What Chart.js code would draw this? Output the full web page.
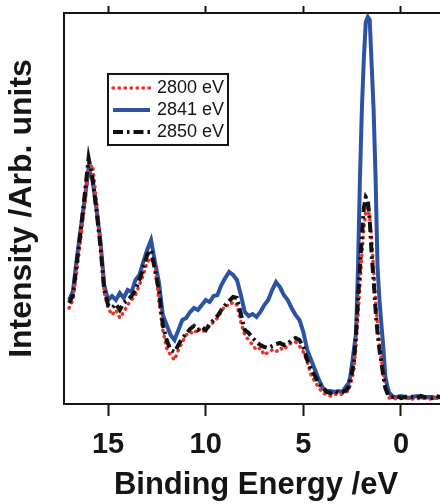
<!DOCTYPE html>
<html>
<head>
<meta charset="utf-8">
<script src="https://cdn.jsdelivr.net/npm/chart.js@4"></script>
<style>
    html, body { margin: 0; padding: 0; background: #fff; overflow: hidden; }
</style>
</head>
<body>
<canvas id="myChart" width="456" height="504"></canvas>
<script>
// binding energy (eV), finer steps around the 1.7 eV peak
const energies = [
    17.0, 16.8, 16.6, 16.4, 16.2, 16.0, 15.8, 15.6, 15.4, 15.2,
    15.0, 14.8, 14.6, 14.4, 14.2, 14.0, 13.8, 13.6, 13.4, 13.2,
    13.0, 12.8, 12.6, 12.4, 12.2, 12.0, 11.8, 11.6, 11.4, 11.2,
    11.0, 10.8, 10.6, 10.4, 10.2, 10.0, 9.8, 9.6, 9.4, 9.2,
    9.0, 8.8, 8.6, 8.4, 8.2, 8.0, 7.8, 7.6, 7.4, 7.2,
    7.0, 6.8, 6.6, 6.4, 6.2, 6.0, 5.8, 5.6, 5.4, 5.2,
    5.0, 4.8, 4.6, 4.4, 4.2, 4.0, 3.8, 3.6, 3.4, 3.2,
    3.0, 2.8, 2.7, 2.6, 2.5, 2.4, 2.3, 2.2, 2.1, 2.0,
    1.9, 1.8, 1.7, 1.6, 1.5, 1.4, 1.3, 1.2, 1.1, 1.0,
    0.9, 0.8, 0.7, 0.6, 0.4, 0.2, 0.0, -0.2, -0.4, -0.6,
    -0.8, -1.0, -1.2, -1.4, -1.6, -1.8, -2.0, -2.2, -2.4
];

const int2800 = [
    96, 104, 134, 166, 199, 234, 239, 204, 164, 112,
    96, 89, 94, 86, 92, 99, 104, 109, 119, 129,
    142, 146, 139, 104, 74, 56, 49, 44, 54, 62,
    69, 72, 70, 76, 72, 74, 78, 82, 86, 92,
    99, 98, 102, 99, 82, 69, 64, 59, 54, 56,
    49, 52, 54, 52, 56, 54, 59, 61, 62, 58,
    52, 42, 29, 22, 16, 11, 9, 8, 10, 9,
    10, 12, 13, 19, 26, 36, 59, 89, 119, 149,
    176, 192, 196, 186, 164, 134, 104, 79, 59, 44,
    29, 17, 10, 6, 6, 5, 6, 5, 6, 5,
    6, 5, 6, 5, 5, 6, 5, 6, 5
];

const int2841 = [
    104, 113, 146, 176, 204, 236, 224, 196, 164, 119,
    104, 108, 104, 111, 106, 114, 112, 124, 129, 142,
    154, 164, 142, 122, 89, 79, 69, 64, 74, 84,
    86, 92, 96, 94, 99, 104, 102, 108, 109, 119,
    126, 132, 129, 124, 109, 92, 88, 90, 87, 92,
    99, 104, 114, 122, 117, 109, 104, 96, 89, 84,
    72, 54, 44, 34, 24, 16, 13, 13, 12, 13,
    12, 18, 20, 27, 41, 56, 71, 137, 226, 296,
    346, 382, 387, 384, 339, 294, 226, 137, 104, 79,
    56, 27, 18, 11, 7, 7, 8, 7, 6, 7,
    8, 7, 6, 7, 7, 6, 7, 6, 7
];

const int2850 = [
    101, 109, 142, 174, 209, 246, 226, 194, 159, 114,
    99, 96, 100, 94, 101, 104, 108, 114, 124, 136,
    149, 154, 134, 114, 79, 64, 54, 52, 59, 66,
    70, 75, 78, 74, 77, 74, 80, 84, 88, 94,
    99, 103, 107, 106, 90, 74, 71, 66, 62, 59,
    57, 56, 58, 60, 61, 59, 60, 64, 66, 64,
    57, 44, 34, 28, 20, 16, 12, 11, 13, 11,
    12, 14, 16, 24, 32, 44, 71, 104, 137, 169,
    196, 207, 204, 184, 149, 124, 94, 71, 54, 42,
    27, 16, 11, 8, 7, 8, 6, 7, 8, 7,
    6, 8, 7, 7, 6, 8, 7, 6, 7
];

const tickValues = [15, 10, 5, 0];

const FONT = '"Liberation Sans", Arial, Helvetica, sans-serif';
const INK = '#151515';

function toPoints(values) {
    return energies.map((e, i) => ({ x: e, y: values[i] }));
}

// legend with a frame, drawn inside the plot area
const boxLegend = {
    id: 'boxLegend',
    afterDraw(chart) {
        const ctx = chart.ctx;
        const left = chart.chartArea.left + 44;
        const top = chart.chartArea.top + 61;
        ctx.save();
        ctx.strokeStyle = INK;
        ctx.lineWidth = 2;
        ctx.strokeRect(left, top, 120, 71);
        chart.data.datasets.forEach((ds, i) => {
            const y = top + 14 + i * 22;
            ctx.beginPath();
            ctx.setLineDash(ds.borderDash || []);
            ctx.lineCap = ds.borderCapStyle || 'butt';
            ctx.strokeStyle = ds.borderColor;
            ctx.lineWidth = ds.borderWidth;
            ctx.moveTo(left + 5, y);
            ctx.lineTo(left + 42, y);
            ctx.stroke();
            ctx.setLineDash([]);
            ctx.fillStyle = INK;
            ctx.font = '18px ' + FONT;
            ctx.textBaseline = 'middle';
            ctx.fillText(ds.label, left + 49, y);
        });
        ctx.restore();
    }
};

const xRange = { min: -2.41, max: 17.26 };

new Chart(document.getElementById('myChart'), {
    type: 'line',
    data: {
        datasets: [
            {
                label: '2800 eV',
                data: toPoints(int2800),
                borderColor: '#e8322a',
                borderWidth: 3.5,
                borderDash: [0.5, 5.5],
                borderCapStyle: 'round',
                order: 2
            },
            {
                label: '2841 eV',
                data: toPoints(int2841),
                borderColor: '#2c52a4',
                borderWidth: 4,
                order: 3
            },
            {
                label: '2850 eV',
                data: toPoints(int2850),
                borderColor: '#111111',
                borderWidth: 4,
                borderDash: [10, 4, 2.5, 4],
                order: 1
            }
        ]
    },
    options: {
        responsive: false,
        animation: false,
        events: [],
        layout: { padding: { left: 0, right: 8, top: 0, bottom: 0 } },
        elements: {
            point: { radius: 0 },
            line: { tension: 0, fill: false }
        },
        plugins: {
            legend: { display: false },
            tooltip: { enabled: false }
        },
        scales: {
            x: {
                type: 'linear',
                position: 'bottom',
                reverse: true,
                min: xRange.min,
                max: xRange.max,
                afterBuildTicks: s => { s.ticks = tickValues.map(v => ({ value: v })); },
                afterFit: s => { s.height = 100; },
                grid: { drawOnChartArea: false, drawTicks: true, tickLength: 12, tickWidth: 2, tickColor: INK },
                border: { display: true, color: INK, width: 2 },
                ticks: {
                    color: INK,
                    padding: 12,
                    maxRotation: 0,
                    font: { family: FONT, size: 29, weight: 'bold' }
                },
                title: {
                    display: true,
                    text: 'Binding Energy /eV',
                    color: INK,
                    padding: { top: 0, bottom: 0 },
                    font: { family: FONT, size: 31, weight: 'bold' }
                }
            },
            xTop: {
                type: 'linear',
                position: 'top',
                reverse: true,
                min: xRange.min,
                max: xRange.max,
                afterBuildTicks: s => { s.ticks = tickValues.map(v => ({ value: v })); },
                afterFit: s => { s.height = 13; },
                grid: { drawOnChartArea: false, drawTicks: true, tickLength: 7, tickWidth: 2, tickColor: INK },
                border: { display: true, color: INK, width: 2 },
                ticks: { display: false }
            },
            y: {
                min: 0,
                max: 391,
                afterFit: s => { s.width = 64; },
                grid: { display: false },
                border: { display: true, color: INK, width: 2 },
                ticks: { display: false },
                title: {
                    display: true,
                    text: 'Intensity /Arb. units',
                    color: INK,
                    padding: { top: 3, bottom: 0 },
                    font: { family: FONT, size: 32, weight: 'bold' }
                }
            }
        }
    },
    plugins: [boxLegend]
});
</script>
</body>
</html>
